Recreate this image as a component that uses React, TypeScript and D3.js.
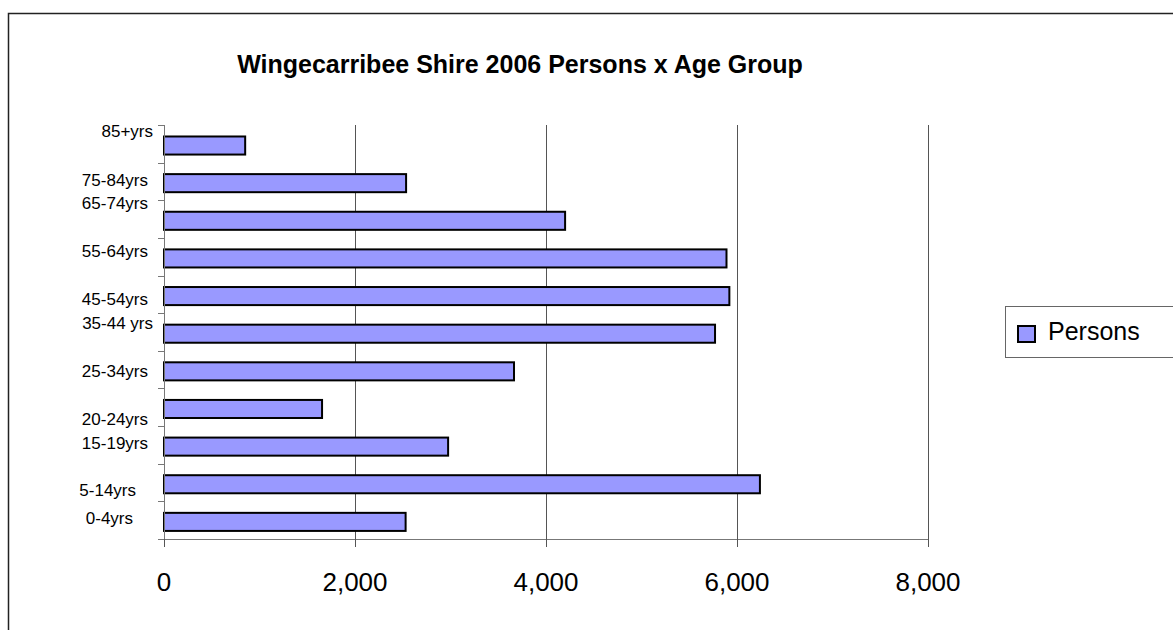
import React from 'react';
import * as d3 from 'd3';

// age groups, top of chart first
const ageGroups = ['85+yrs', '75-84yrs', '65-74yrs', '55-64yrs', '45-54yrs', '35-44 yrs', '25-34yrs', '20-24yrs', '15-19yrs', '5-14yrs', '0-4yrs'];
const persons = [850, 2535, 4200, 5890, 5920, 5770, 3665, 1655, 2975, 6240, 2530];
const xTicks = [0, 2000, 4000, 6000, 8000];
const seriesName = 'Persons';
const title = 'Wingecarribee Shire 2006 Persons x Age Group';

// the category labels sit a little off their bars in the original
const labelRight = [153, 148, 148, 148, 148, 153, 148, 148, 148, 136, 133];
const labelDy = [-6.5, 4.8, -9.8, 0.6, 10.9, -3.5, 7.6, 18, 4.3, 13.7, 3.6];

const W = 1173;
const H = 630;
const font = "'Liberation Sans', Arial, sans-serif";
const barFill = '#9999FF';

const App = () => {
  const x = d3.scaleLinear().domain([0, 8000]).range([164, 928]);
  const y = d3.scaleBand().domain(ageGroups).range([125, 539]).paddingInner(0.52).paddingOuter(0.26);
  const step = y.step();
  const top = 125;
  const bottom = 539;
  const fmt = d3.format(',');
  const px = (v: number) => Math.round(x(v)) + 0.5;
  const bandEdges = d3.range(ageGroups.length + 1).map(i => top + i * step);

  return (
    <svg width={W} height={H} style={{ position: 'absolute', left: 0, top: 0, background: '#fff' }} fontFamily={font}>
      <rect x={0} y={0} width={W} height={H} fill="#fff" />
      {/* chart frame, runs off the right and bottom */}
      <rect x={8.5} y={13.5} width={1300} height={700} fill="none" stroke="#222" strokeWidth={1.5} />

      <text x={520} y={73} textAnchor="middle" fontSize={25} fontWeight="bold" fill="#000">{title}</text>

      {/* grid */}
      {xTicks.filter(t => t > 0).map(t => (
        <line key={t} x1={px(t)} x2={px(t)} y1={top} y2={bottom} stroke="#555" strokeWidth={1} />
      ))}

      {/* bars */}
      {ageGroups.map((g, i) => (
        <rect key={g} x={x(0)} y={(y(g) ?? 0) + 1.7} width={x(persons[i]) - x(0)} height={y.bandwidth()}
          fill={barFill} stroke="#000" strokeWidth={2} />
      ))}

      {/* y axis */}
      <line x1={px(0)} x2={px(0)} y1={top} y2={bottom + 8} stroke="#777" strokeWidth={1} />
      {bandEdges.map((e, i) => (
        <line key={i} x1={158} x2={px(0)} y1={Math.round(e) + 0.5} y2={Math.round(e) + 0.5} stroke="#777" strokeWidth={1} />
      ))}
      {ageGroups.map((g, i) => (
        <text key={g} x={labelRight[i]} y={(y(g) ?? 0) + y.bandwidth() / 2 + labelDy[i]} textAnchor="end" fontSize={17} fill="#000">{g}</text>
      ))}

      {/* x axis */}
      <line x1={158} x2={px(8000)} y1={bottom + 0.5} y2={bottom + 0.5} stroke="#777" strokeWidth={1} />
      {xTicks.map(t => (
        <g key={t}>
          <line x1={px(t)} x2={px(t)} y1={bottom} y2={bottom + 8} stroke="#555" strokeWidth={1} />
          <text x={x(t)} y={591} textAnchor="middle" fontSize={26} fill="#000">{fmt(t)}</text>
        </g>
      ))}

      {/* legend */}
      <rect x={1005.5} y={306.5} width={200} height={51} fill="#fff" stroke="#666" strokeWidth={1} />
      <rect x={1018} y={326} width={17} height={16} fill={barFill} stroke="#000" strokeWidth={2} />
      <text x={1048} y={340} fontSize={25} fill="#000">{seriesName}</text>
    </svg>
  );
};

export default App;
